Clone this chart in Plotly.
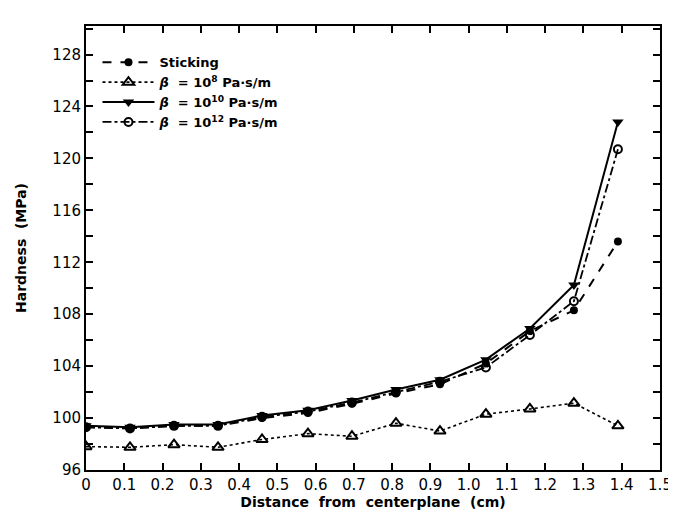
import plotly.graph_objects as go

distance = [0, 0.115, 0.23, 0.345, 0.46, 0.58, 0.695, 0.81, 0.925, 1.045, 1.16, 1.275, 1.39]
sticking = [99.3, 99.2, 99.4, 99.4, 100.0, 100.4, 101.1, 101.9, 102.6, 104.2, 106.7, 108.3, 113.6]
beta_1e8 = [97.8, 97.75, 97.95, 97.75, 98.35, 98.8, 98.6, 99.6, 99.0, 100.3, 100.7, 101.15, 99.4]
beta_1e10 = [99.4, 99.3, 99.5, 99.5, 100.2, 100.6, 101.35, 102.2, 102.95, 104.5, 106.9, 110.25, 122.8]
beta_1e12 = [99.3, 99.2, 99.4, 99.4, 100.1, 100.5, 101.2, 102.0, 102.8, 103.9, 106.4, 109.0, 120.7]

x_tickvals = [0, 0.1, 0.2, 0.3, 0.4, 0.5, 0.6, 0.7, 0.8, 0.9, 1.0, 1.1, 1.2, 1.3, 1.4, 1.5]
x_ticktext = ["0", "0.1", "0.2", "0.3", "0.4", "0.5", "0.6", "0.7", "0.8", "0.9", "1.0", "1.1", "1.2", "1.3", "1.4", "1.5"]
y_tickvals = [96, 98, 100, 102, 104, 106, 108, 110, 112, 114, 116, 118, 120, 122, 124, 126, 128, 130]
y_ticktext = ["96", "", "100", "", "104", "", "108", "", "112", "", "116", "", "120", "", "124", "", "128", ""]

names = ["Sticking",
         "<i>β</i>  = 10<sup>8</sup> Pa·s/m",
         "<i>β</i>  = 10<sup>10</sup> Pa·s/m",
         "<i>β</i>  = 10<sup>12</sup> Pa·s/m"]

fig = go.Figure()
fig.add_trace(go.Scatter(x=distance, y=sticking, name=names[0], mode="lines+markers",
                         line=dict(color="black", width=2, dash="dash"),
                         marker=dict(symbol="circle", size=8, color="black")))
fig.add_trace(go.Scatter(x=distance, y=beta_1e8, name=names[1], mode="lines+markers",
                         line=dict(color="black", width=1.6, dash="dot"),
                         marker=dict(symbol="triangle-up-open", size=10, color="black",
                                     line=dict(width=2, color="black"))))
fig.add_trace(go.Scatter(x=distance, y=beta_1e10, name=names[2], mode="lines+markers",
                         line=dict(color="black", width=2),
                         marker=dict(symbol="triangle-down", size=10, color="black")))
fig.add_trace(go.Scatter(x=distance, y=beta_1e12, name=names[3], mode="lines+markers",
                         line=dict(color="black", width=1.8, dash="dashdot"),
                         marker=dict(symbol="circle-open", size=8, color="black",
                                     line=dict(width=2, color="black"))))

font_family = "DejaVu Sans"
fig.update_layout(
    width=676, height=516,
    margin=dict(l=78, r=14, t=18, b=54),
    paper_bgcolor="white", plot_bgcolor="white",
    font=dict(family=font_family, size=15, color="black"),
    showlegend=True,
    legend=dict(x=0.02, y=0.952, xanchor="left", yanchor="top",
                bgcolor="rgba(0,0,0,0)", font=dict(size=13, weight="bold"),
                tracegroupgap=0, itemwidth=52),
    xaxis=dict(range=[0, 1.5], tickvals=x_tickvals, ticktext=x_ticktext,
               ticks="inside", ticklen=7, tickwidth=1.5, tickcolor="black",
               showline=True, linewidth=2, linecolor="black", mirror="ticks",
               showgrid=False, zeroline=False,
               tickfont=dict(size=15),
               title=dict(text="Distance  from  centerplane  (cm)",
                          font=dict(size=14, weight="bold"), standoff=2)),
    yaxis=dict(range=[96, 130.2], tickvals=y_tickvals, ticktext=y_ticktext,
               ticks="inside", ticklen=7, tickwidth=1.5, tickcolor="black",
               showline=True, linewidth=2, linecolor="black", mirror="ticks",
               showgrid=False, zeroline=False,
               tickfont=dict(size=15),
               title=dict(text="Hardness  (MPa)",
                          font=dict(size=14, weight="bold"), standoff=22)),
)

fig.write_html("out.html")
